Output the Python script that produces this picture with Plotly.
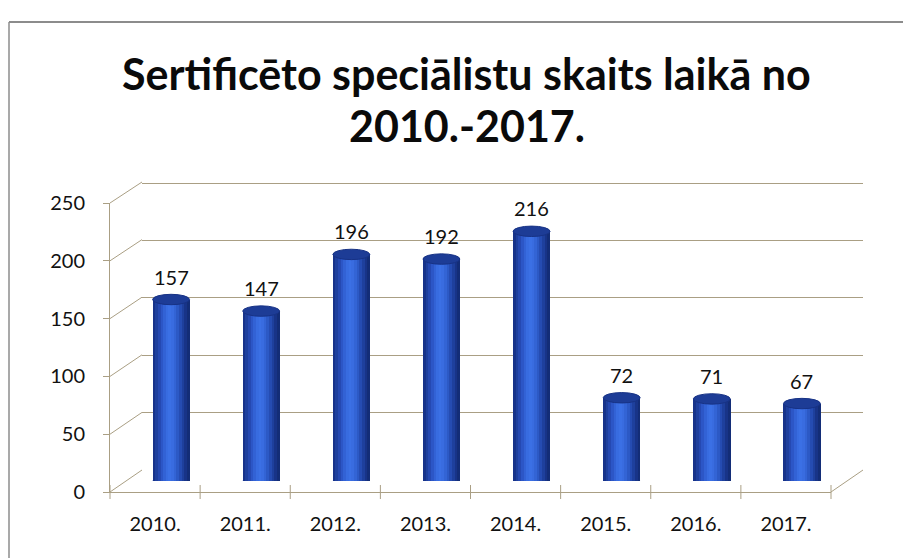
import plotly.graph_objects as go

# ---- data ----
categories = ["2010.", "2011.", "2012.", "2013.", "2014.", "2015.", "2016.", "2017."]
values = [157, 147, 196, 192, 216, 72, 71, 67]
y_ticks = [0, 50, 100, 150, 200, 250]
title_line1 = "Sertificēto speciālistu skaits laikā no"
title_line2 = "2010.-2017."

W, H = 911, 558
OFF = 8  # page body margin
FONT = "Lato, Carlito, 'Open Sans', sans-serif"

def fx(px):
    return (px - OFF) / W

def fy(py):
    return 1 - (py - OFF) / H

YMAX = 250
# planes: front (axis labels), middle (bars), back (grid wall)
front = dict(x0=110, x1=831, y0=492, y1=203)
middle = dict(x0=126, x1=847, y0=481, y1=192)
back = dict(x0=142, x1=863, y0=470, y1=182)

fig = go.Figure()

n = len(categories)
idx = list(range(n))
bar_w = 0.41

# cylinder shading via thin side-by-side strips
strip_cols = ["#17338a", "#1e409e", "#2549b2", "#2c56c6", "#3262d5", "#386ce0",
              "#3b70e5", "#396ce0", "#3364d5", "#2c59c5", "#254cb2", "#1e409d",
              "#183488", "#132d77"]
ns = len(strip_cols)
sw = bar_w / ns
for k, c in enumerate(strip_cols):
    fig.add_trace(go.Bar(
        x=idx, y=values, width=[sw * 1.08] * n, offset=[-bar_w / 2 + k * sw] * n,
        marker=dict(color=c, line=dict(width=0)),
        xaxis="x3", yaxis="y3", hoverinfo="skip", showlegend=False))

shapes = []
ell = 4.5  # half height of ellipse in data units
for i, v in enumerate(values):
    shapes.append(dict(type="circle", xref="x3", yref="y3",
                       x0=i - bar_w / 2, x1=i + bar_w / 2, y0=-ell, y1=ell,
                       fillcolor="#2248ad", line=dict(width=0), layer="below"))
    shapes.append(dict(type="circle", xref="x3", yref="y3",
                       x0=i - bar_w / 2, x1=i + bar_w / 2, y0=v - ell, y1=v + ell,
                       fillcolor="#1d3c96", line=dict(color="#173285", width=1), layer="above"))

def plane_y(p, val):
    return p["y0"] + (p["y1"] - p["y0"]) * val / YMAX

wall_col = "#aa9f84"
for t in y_ticks:
    shapes.append(dict(type="line", xref="paper", yref="paper",
                       x0=fx(front["x0"]), y0=fy(plane_y(front, t)),
                       x1=fx(back["x0"]), y1=fy(plane_y(back, t)),
                       line=dict(color=wall_col, width=1), layer="below"))
shapes.append(dict(type="line", xref="paper", yref="paper",
                   x0=fx(front["x1"]), y0=fy(front["y0"]),
                   x1=fx(back["x1"]), y1=fy(back["y0"]),
                   line=dict(color=wall_col, width=1), layer="below"))
# outer frame (scan border)
shapes.append(dict(type="line", xref="paper", yref="paper",
                   x0=fx(9), y0=fy(22), x1=1.0, y1=fy(22),
                   line=dict(color="#8c8c8c", width=2)))
shapes.append(dict(type="line", xref="paper", yref="paper",
                   x0=fx(9), y0=fy(22), x1=fx(9), y1=0,
                   line=dict(color="#8c8c8c", width=1.5)))

annotations = []
for i, v in enumerate(values):
    annotations.append(dict(x=i, y=v, xref="x3", yref="y3", text=str(v),
                            showarrow=False, yanchor="bottom", yshift=9,
                            font=dict(family=FONT, size=20, color="#111111")))
annotations.append(dict(x=fx(467), y=fy(73), xref="paper", yref="paper",
                        text="<b>" + title_line1 + "</b>", showarrow=False,
                        xanchor="center", yanchor="middle",
                        font=dict(family=FONT, size=43, color="#0a0a0a")))
annotations.append(dict(x=fx(467), y=fy(125), xref="paper", yref="paper",
                        text="<b>" + title_line2 + "</b>", showarrow=False,
                        xanchor="center", yanchor="middle",
                        font=dict(family=FONT, size=43, color="#0a0a0a")))

fig.update_layout(
    width=W, height=H,
    margin=dict(l=0, r=0, t=0, b=0, autoexpand=False),
    paper_bgcolor="white", plot_bgcolor="rgba(0,0,0,0)",
    barmode="overlay", bargap=0,
    showlegend=False,
    shapes=shapes, annotations=annotations,
    xaxis=dict(domain=[fx(front["x0"]), fx(front["x1"])], range=[-0.5, n - 0.5],
               tickmode="array", tickvals=idx, ticktext=categories,
               showgrid=False, zeroline=False, showline=True, linecolor=wall_col,
               ticks="", tickfont=dict(family=FONT, size=20, color="#111111"),
               ticklabelstandoff=14, automargin=False, fixedrange=True),
    yaxis=dict(domain=[fy(front["y0"]), fy(front["y1"])], range=[0, YMAX],
               tickmode="array", tickvals=y_ticks,
               showgrid=False, zeroline=False, showline=True, linecolor=wall_col,
               ticks="outside", ticklen=6, tickcolor=wall_col,
               tickfont=dict(family=FONT, size=20, color="#111111"),
               ticklabelstandoff=14, automargin=False, fixedrange=True),
    xaxis2=dict(domain=[fx(back["x0"]), fx(back["x1"])], range=[0, 1],
                visible=False, anchor="y2", automargin=False),
    yaxis2=dict(domain=[fy(back["y0"]), fy(back["y1"])], range=[0, YMAX + 1],
                tickvals=y_ticks, showticklabels=False, showgrid=True,
                gridcolor=wall_col, gridwidth=1, zeroline=False, showline=False,
                anchor="x2", ticks="", automargin=False),
    xaxis3=dict(domain=[fx(middle["x0"]), fx(middle["x1"])], range=[-0.5, n - 0.5],
                visible=False, anchor="y3", automargin=False),
    yaxis3=dict(domain=[fy(middle["y0"]), fy(middle["y1"])], range=[0, YMAX],
                visible=False, anchor="x3", automargin=False),
)

fig.add_trace(go.Scatter(x=[i - 0.5 for i in range(n + 1)], y=[0] * (n + 1),
                         mode="markers", marker=dict(symbol="line-ns", size=10,
                         line=dict(color=wall_col, width=1)),
                         xaxis="x", yaxis="y", hoverinfo="skip", cliponaxis=False))
fig.add_trace(go.Scatter(x=[0], y=[0], xaxis="x2", yaxis="y2", mode="markers",
                         marker=dict(opacity=0), hoverinfo="skip"))

fig.write_html("out.html")
